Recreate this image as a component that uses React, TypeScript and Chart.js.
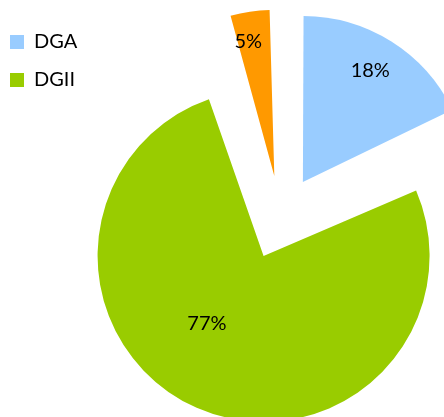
import React, { useEffect, useRef } from "react";
import { Chart, registerables } from "chart.js";

Chart.register(...registerables);

// ---- data ----
const categories = ["DGA", "DGII", ""];
const shares = [17.9, 77.4, 4.7];
const sliceColors = ["#99CCFF", "#99CC00", "#FF9900"];

// ---- style constants ----
const EXPLODE = 42; // px each slice is pulled out
const RADIUS = 166;
const FONT = "Lato";
// label placement relative to each slice's (exploded) vertex
const LABEL_PLACE = [
  { dist: 130, shift: -1 },
  { dist: 88.5, shift: 16 },
  { dist: 137, shift: -2.5 },
];

const explodeFix = {
  id: "explodeFix",
  beforeDatasetsDraw(chart: any) {
    chart.data.datasets.forEach((_ds: any, di: number) => {
      const meta = chart.getDatasetMeta(di);
      const R = (meta.controller as any).outerRadius;
      meta.data.forEach((arc: any) => {
        const circ = arc.circumference || 0;
        const fix = 1 - Math.sin(Math.min(Math.PI, circ));
        arc.outerRadius = R - EXPLODE * fix;
      });
    });
  },
};

const sliceLabels = {
  id: "sliceLabels",
  afterDatasetsDraw(chart: any) {
    const ctx = chart.ctx;
    const meta = chart.getDatasetMeta(0);
    ctx.save();
    ctx.font = `20px ${FONT}`;
    ctx.fillStyle = "#000";
    ctx.textAlign = "center";
    ctx.textBaseline = "middle";
    meta.data.forEach((arc: any, i: number) => {
      const mid = (arc.startAngle + arc.endAngle) / 2;
      const vx = arc.x + Math.cos(mid) * EXPLODE;
      const vy = arc.y + Math.sin(mid) * EXPLODE;
      const p = LABEL_PLACE[i];
      const a = mid + (p.shift * Math.PI) / 180;
      ctx.fillText(`${Math.round(shares[i])}%`, vx + p.dist * Math.cos(a), vy + p.dist * Math.sin(a));
    });
    ctx.restore();
  },
};

export default function App() {
  const ref = useRef<HTMLCanvasElement | null>(null);

  useEffect(() => {
    if (!ref.current) return;
    const chart = new Chart(ref.current, {
      type: "pie",
      data: {
        labels: categories,
        datasets: [
          {
            data: shares,
            backgroundColor: sliceColors,
            borderWidth: 0,
            offset: EXPLODE * 4,
            hoverOffset: 0,
          },
        ],
      },
      options: {
        animation: false,
        responsive: false,
        devicePixelRatio: 1,
        radius: RADIUS,
        events: [],
        layout: { padding: 0 },
        plugins: {
          tooltip: { enabled: false },
          legend: {
            display: true,
            position: "chartArea",
            align: "start",
            title: {
              display: true,
              text: " ",
              font: { size: 12, lineHeight: 1 },
              padding: { top: 2, bottom: 0 },
            },
            labels: {
              filter: (item: any) => item.index < 2,
              boxWidth: 14,
              boxHeight: 14,
              padding: 18,
              color: "#000",
              font: { family: FONT, size: 20 },
            },
          },
        },
      } as any,
      plugins: [explodeFix, sliceLabels],
    });
    return () => chart.destroy();
  }, []);

  return (
    <div
      style={{
        position: "fixed",
        left: 0,
        top: 0,
        width: 444,
        height: 417,
        overflow: "hidden",
        background: "#fff",
      }}
    >
      <canvas
        ref={ref}
        width={577}
        height={435}
        style={{ position: "absolute", left: -8, top: 0, width: 577, height: 435, display: "block" }}
      />
    </div>
  );
}
